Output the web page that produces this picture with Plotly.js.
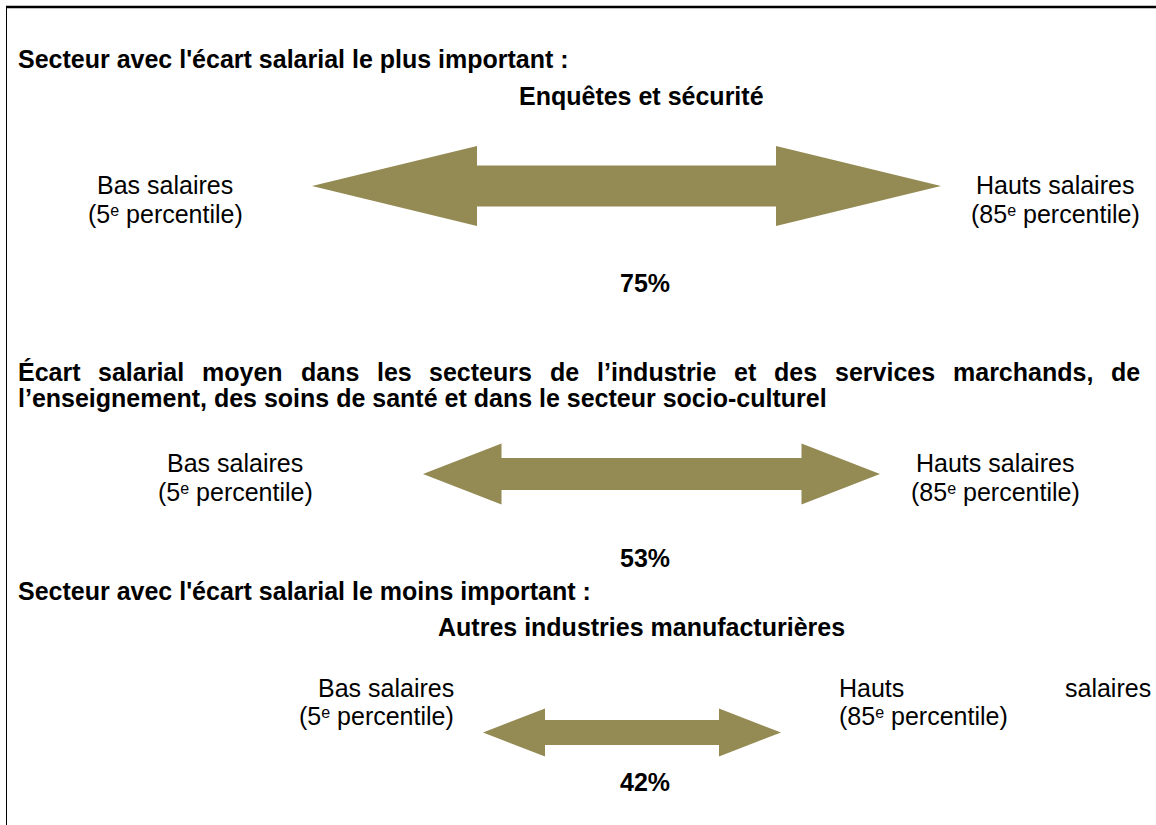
<!DOCTYPE html>
<html><head><meta charset="utf-8">
<script src="https://cdn.plot.ly/plotly-3.0.1.min.js"></script>
<style>html,body{margin:0;padding:0;background:#fff}</style>
</head><body><div id="chart" style="width:1156px;height:825px"></div>
<script>
// ---- data ----
const sectionHeadings = [
  "Secteur avec l'écart salarial le plus important :",
  "Écart salarial moyen dans les secteurs de l’industrie et des services marchands, de",
  "Secteur avec l'écart salarial le moins important :"
];
const headingSecondLine = ["", "l’enseignement, des soins de santé et dans le secteur socio-culturel", ""];
const sectorNames = ["Enquêtes et sécurité", "", "Autres industries manufacturières"];
const gapPercent = [75, 53, 42];
const SUP_E = '<span style="font-size:16px;baseline-shift:45%">e</span>';
const lowLabel = ["Bas salaires", "(5" + SUP_E + " percentile)"];
const highLabel = ["Hauts salaires", "(85" + SUP_E + " percentile)"];

// ---- layout spec (positions / styles) ----
const FONT = "Liberation Sans, Arial, sans-serif";
const FS = 25;
const ARROW_COLOR = "#948A54";
const blocks = [
  {headY: 59, nameY: 96, arrow: {x0: 312, x1: 941, cy: 186, headL: 165, headH: 40, shaftH: 20.5},
   lowX: 165, highX: 1055, labY: [185, 214], pctX: 645, pctY: 283, lowAlign: "center", highAlign: "center"},
  {headY: 372, line2Y: 398, arrow: {x0: 423, x1: 880, cy: 474, headL: 78.5, headH: 30.5, shaftH: 16},
   lowX: 235, highX: 995, labY: [463, 492], pctX: 645, pctY: 558, lowAlign: "center", highAlign: "center"},
  {headY: 591, nameY: 627, arrow: {x0: 483, x1: 781, cy: 732.5, headL: 62, headH: 24, shaftH: 12.5},
   lowX: 455, highX: 838, highRight: 1152, labY: [688, 716], pctX: 645, pctY: 782, lowAlign: "right", highAlign: "left"}
];
const LEFT = 17, JUSTIFY_RIGHT = 1139;

const ctx = document.createElement("canvas").getContext("2d");
function textWidth(t, bold) {
  ctx.font = (bold ? "bold " : "") + FS + "px 'Liberation Sans'";
  return ctx.measureText(t).width;
}

const annotations = [];
function ann(text, x, y, xanchor, bold) {
  annotations.push({text: bold ? "<b>" + text + "</b>" : text, x: x, y: y, xref: "x", yref: "y",
    xanchor: xanchor, yanchor: "middle", showarrow: false, borderpad: 0,
    font: {family: FONT, size: FS, color: "#000"}});
}
function justified(text, x0, x1, y, bold) {
  const words = text.split(" ");
  const widths = words.map(w => textWidth(w, bold));
  const total = widths.reduce((a, b) => a + b, 0);
  const gap = (x1 - x0 - total) / (words.length - 1);
  let x = x0;
  words.forEach((w, i) => { ann(w, x, y, "left", bold); x += widths[i] + gap; });
}

const traces = [];
blocks.forEach((b, i) => {
  if (i === 1) {
    justified(sectionHeadings[i], LEFT, JUSTIFY_RIGHT, b.headY, true);
    ann(headingSecondLine[i], LEFT, b.line2Y, "left", true);
  } else {
    ann(sectionHeadings[i], LEFT, b.headY, "left", true);
    ann(sectorNames[i], 641, b.nameY, "center", true);
  }
  lowLabel.forEach((t, k) => ann(t, b.lowX, b.labY[k], b.lowAlign, false));
  if (b.highRight) {
    const w = highLabel[0].split(" ");
    ann(w[0], b.highX, b.labY[0], "left", false);
    ann(w[1], b.highRight, b.labY[0], "right", false);
    ann(highLabel[1], b.highX, b.labY[1], "left", false);
  } else {
    highLabel.forEach((t, k) => ann(t, b.highX, b.labY[k], b.highAlign, false));
  }
  ann(gapPercent[i] + "%", b.pctX, b.pctY, "center", true);
  const a = b.arrow;
  const xs = [a.x0, a.x0 + a.headL, a.x0 + a.headL, a.x1 - a.headL, a.x1 - a.headL, a.x1,
              a.x1 - a.headL, a.x1 - a.headL, a.x0 + a.headL, a.x0 + a.headL, a.x0];
  const ys = [a.cy, a.cy - a.headH, a.cy - a.shaftH, a.cy - a.shaftH, a.cy - a.headH, a.cy,
              a.cy + a.headH, a.cy + a.shaftH, a.cy + a.shaftH, a.cy + a.headH, a.cy];
  traces.push({x: xs, y: ys, type: "scatter", mode: "lines", fill: "toself",
    fillcolor: ARROW_COLOR, line: {width: 0, color: ARROW_COLOR}, hoverinfo: "skip",
    name: gapPercent[i] + "%"});
});

const layout = {
  width: 1156, height: 825, margin: {l: 0, r: 0, t: 0, b: 0},
  paper_bgcolor: "#fff", plot_bgcolor: "#fff", showlegend: false,
  xaxis: {range: [0, 1156], visible: false, fixedrange: true},
  yaxis: {range: [825, 0], visible: false, fixedrange: true},
  annotations: annotations,
  shapes: [
    {type: "line", xref: "x", yref: "y", x0: 6, x1: 1156, y0: 7, y1: 7, line: {color: "#000", width: 2.5}},
    {type: "line", xref: "x", yref: "y", x0: 6.5, x1: 6.5, y0: 7, y1: 825, line: {color: "#000", width: 1}}
  ]
};
Plotly.newPlot("chart", traces, layout, {displayModeBar: false, staticPlot: true});
</script></body></html>
